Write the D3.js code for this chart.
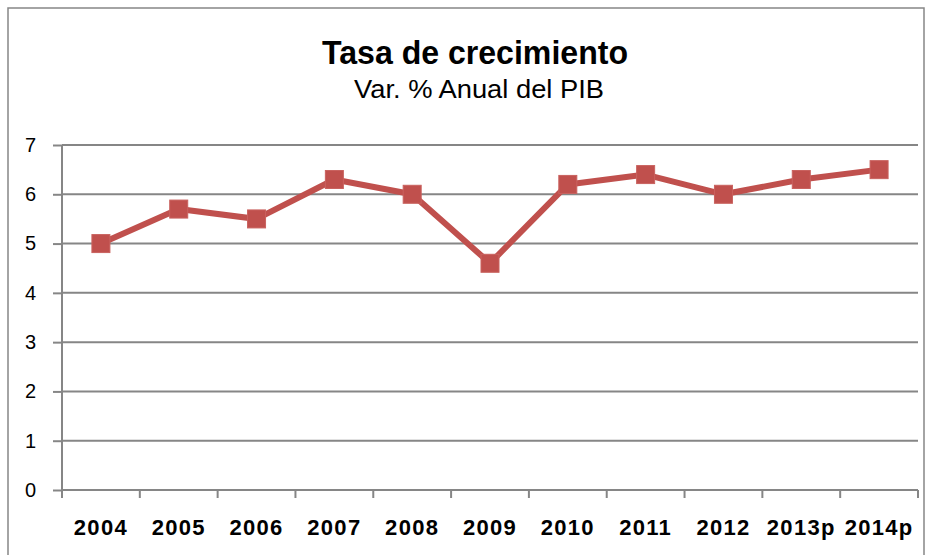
<!DOCTYPE html>
<meta charset="utf-8">
<script src="https://d3js.org/d3.v7.min.js"></script>
<style>
  body { margin: 0; background: #fff; }
  text { font-family: "Liberation Sans", Arial, sans-serif; }
</style>
<div id="chart"></div>
<script>
  // datos
  var years = ["2004", "2005", "2006", "2007", "2008", "2009", "2010", "2011", "2012", "2013p", "2014p"];
  var growth = [5.0, 5.7, 5.5, 6.3, 6.0, 4.6, 6.2, 6.4, 6.0, 6.3, 6.5];
  var yTicks = [0, 1, 2, 3, 4, 5, 6, 7];

  var W = 932, H = 555;
  var margin = { top: 145, right: 14, bottom: 65, left: 62 },
    width = 918 - margin.left,
    height = 490 - margin.top;

  var svg = d3.select("#chart").append("svg")
    .attr("width", W).attr("height", H);

  // marco del gráfico
  svg.append("rect")
    .attr("x", 8).attr("y", 8)
    .attr("width", 916).attr("height", 560)
    .attr("fill", "none").attr("stroke", "#868686").attr("stroke-width", 1.5);

  // títulos
  svg.append("text")
    .attr("x", 475).attr("y", 64)
    .attr("text-anchor", "middle")
    .style("font-size", "34px").attr("font-weight", "bold")
    .attr("textLength", 306).attr("lengthAdjust", "spacingAndGlyphs")
    .text("Tasa de crecimiento");
  svg.append("text")
    .attr("x", 479).attr("y", 98)
    .attr("text-anchor", "middle")
    .style("font-size", "26px")
    .attr("textLength", 250).attr("lengthAdjust", "spacingAndGlyphs")
    .text("Var. % Anual del PIB");

  var g = svg.append("g")
    .attr("transform", "translate(" + margin.left + "," + margin.top + ")");

  var x = d3.scaleBand().domain(years).range([0, width]);
  var y = d3.scaleLinear().domain([0, 7]).range([height, 0]);

  // líneas de cuadrícula
  g.append("g")
    .selectAll("line")
    .data(yTicks.slice(1))
    .enter().append("line")
    .attr("x1", 0).attr("x2", width)
    .attr("y1", function (d) { return y(d); })
    .attr("y2", function (d) { return y(d); })
    .attr("stroke", "#868686").attr("stroke-width", 2);

  // eje Y
  var yAxis = g.append("g")
    .call(d3.axisLeft(y).tickValues(yTicks).tickSize(9).tickPadding(17).tickFormat(d3.format("d")));
  yAxis.selectAll("line").attr("stroke", "#868686").attr("stroke-width", 2);
  yAxis.select(".domain").attr("stroke", "#868686").attr("stroke-width", 2)
    .attr("d", "M0," + height + "V0");
  yAxis.selectAll("text").style("font-size", "20px").attr("fill", "#000")
    .style("font-family", "Liberation Sans, Arial, sans-serif");

  // eje X
  var xAxis = g.append("g")
    .attr("transform", "translate(0," + height + ")")
    .call(d3.axisBottom(x).tickSize(0).tickPadding(29));
  xAxis.select(".domain").attr("stroke", "#868686").attr("stroke-width", 2)
    .attr("d", "M0,0H" + width);
  xAxis.selectAll("text").style("font-size", "22px").attr("font-weight", "bold")
    .attr("fill", "#000").attr("letter-spacing", "1.3px")
    .style("font-family", "Liberation Sans, Arial, sans-serif");

  // marcas de división entre categorías
  var bounds = [0].concat(years.map(function (d) { return x(d) + x.bandwidth(); }));
  xAxis.selectAll(".divTick")
    .data(bounds)
    .enter().append("line")
    .attr("x1", function (d) { return d; })
    .attr("x2", function (d) { return d; })
    .attr("y1", 0).attr("y2", 8)
    .attr("stroke", "#868686").attr("stroke-width", 2);

  // serie
  var pts = years.map(function (d, i) { return { year: d, value: growth[i] }; });
  var line = d3.line()
    .x(function (d) { return x(d.year) + x.bandwidth() / 2; })
    .y(function (d) { return y(d.value); });

  g.append("path")
    .datum(pts)
    .attr("d", line)
    .attr("fill", "none")
    .attr("stroke", "#C0504D")
    .attr("stroke-width", 6)
    .attr("stroke-linejoin", "round");

  var s = 18;
  g.selectAll(".marker")
    .data(pts)
    .enter().append("rect")
    .attr("x", function (d) { return x(d.year) + x.bandwidth() / 2 - s / 2; })
    .attr("y", function (d) { return y(d.value) - s / 2; })
    .attr("width", s).attr("height", s)
    .attr("fill", "#C0504D")
    .attr("stroke", "#C9625F").attr("stroke-width", 1);
</script>
